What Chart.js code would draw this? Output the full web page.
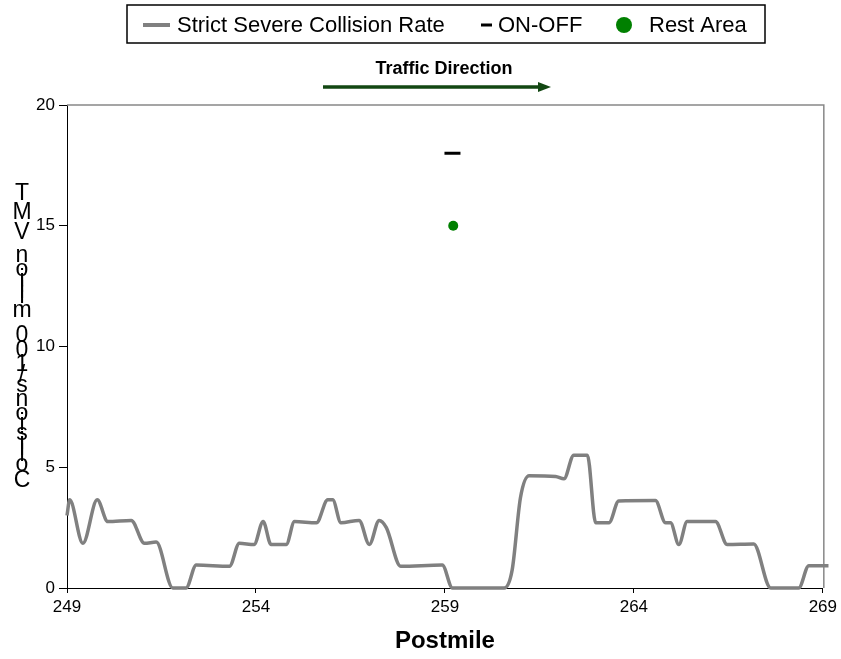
<!DOCTYPE html>
<html>
<head>
<meta charset="utf-8">
<script src="https://cdn.jsdelivr.net/npm/chart.js@4"></script>
<style>
  html, body { margin: 0; padding: 0; background: #fff; }
  #wrap { width: 841px; height: 659px; }
</style>
</head>
<body>
<div id="wrap"><canvas id="rateChart" width="841" height="659"></canvas></div>
<script>
// Strict severe collision rate along the route
const postmiles = [
  249.0, 249.07, 249.42, 249.8, 250.08, 250.7, 251.05, 251.36, 251.8, 252.15,
  252.42, 253.3, 253.56, 253.95, 254.19, 254.4, 254.8, 255.02, 255.6, 255.9,
  256.03, 256.25, 256.73, 257.0, 257.26, 257.45, 257.83, 258.93, 259.2, 260.57,
  260.78, 261.0, 261.23, 261.93, 262.15, 262.41, 262.77, 262.99, 263.34, 263.6,
  264.57, 264.84, 264.97, 265.19, 265.41, 266.16, 266.47, 267.17, 267.62, 268.36,
  268.63, 269.15
];
const rates = [
  3.0, 3.65, 1.85, 3.65, 2.75, 2.8, 1.85, 1.9, 0.0, 0.0,
  0.95, 0.9, 1.85, 1.8, 2.75, 1.8, 1.8, 2.75, 2.7, 3.65,
  3.65, 2.7, 2.8, 1.8, 2.8, 2.5, 0.9, 0.95, 0.0, 0.0,
  0.75, 3.75, 4.65, 4.62, 4.52, 5.5, 5.5, 2.7, 2.7, 3.6,
  3.62, 2.7, 2.7, 1.8, 2.75, 2.75, 1.8, 1.82, 0.0, 0.0,
  0.92, 0.92
];

// Single markers
const onOffX = [259.2];
const onOffY = [18];
const restAreaX = [259.22];
const restAreaY = [15];

// Axis ticks
const xTicks = [249, 254, 259, 264, 269];
const yTicks = [0, 5, 10, 15, 20];

const seriesNames = ['Strict Severe Collision Rate', 'ON-OFF', 'Rest Area'];
const yTitle = 'Collisions/100 million VMT';
const xTitle = 'Postmile';
const directionLabel = 'Traffic Direction';

const FONT = '"Liberation Sans", Arial, sans-serif';

const toPoints = (xs, ys) => xs.map((x, i) => ({ x: x, y: ys[i] }));

// Legend box, direction arrow, stacked y title and plot frame
const decorations = {
  id: 'decorations',
  beforeDatasetsDraw(chart) {
    const { ctx, chartArea } = chart;
    ctx.save();
    ctx.strokeStyle = '#888';
    ctx.lineWidth = 1.5;
    ctx.beginPath();
    ctx.moveTo(chartArea.left, chartArea.top);
    ctx.lineTo(chartArea.right + 1, chartArea.top);
    ctx.lineTo(chartArea.right + 1, chartArea.bottom);
    ctx.stroke();
    ctx.restore();
  },
  afterDraw(chart) {
    const { ctx } = chart;
    ctx.save();

    // legend
    ctx.strokeStyle = '#000';
    ctx.lineWidth = 1.5;
    ctx.strokeRect(127, 5, 638, 38);
    ctx.font = '22px ' + FONT;
    ctx.fillStyle = '#000';
    ctx.textBaseline = 'middle';
    ctx.textAlign = 'left';

    ctx.strokeStyle = '#808080';
    ctx.lineWidth = 4;
    ctx.beginPath(); ctx.moveTo(143, 25); ctx.lineTo(170, 25); ctx.stroke();
    ctx.fillText(seriesNames[0], 177, 26);

    ctx.strokeStyle = '#000';
    ctx.lineWidth = 3;
    ctx.beginPath(); ctx.moveTo(481, 25); ctx.lineTo(492, 25); ctx.stroke();
    ctx.fillText(seriesNames[1], 498, 26);

    ctx.fillStyle = '#008000';
    ctx.beginPath(); ctx.arc(624, 25, 8, 0, Math.PI * 2); ctx.fill();
    ctx.fillStyle = '#000';
    ctx.fillText(seriesNames[2], 649, 26);

    // traffic direction
    ctx.font = 'bold 18px ' + FONT;
    ctx.textAlign = 'center';
    ctx.fillText(directionLabel, 444, 69);
    ctx.strokeStyle = '#124712';
    ctx.fillStyle = '#124712';
    ctx.lineWidth = 3.5;
    ctx.beginPath(); ctx.moveTo(323, 87); ctx.lineTo(540, 87); ctx.stroke();
    ctx.beginPath();
    ctx.moveTo(538, 82); ctx.lineTo(551, 87); ctx.lineTo(538, 92);
    ctx.closePath(); ctx.fill();

    // y title: characters stacked, last char on top
    ctx.font = '23px ' + FONT;
    ctx.fillStyle = '#000';
    const chars = yTitle.split('').reverse();
    const widths = chars.map(c => ctx.measureText(c).width);
    const centers = [];
    let acc = 0;
    widths.forEach(w => { centers.push(acc + w / 2); acc += w; });
    const c0 = centers[0], c1 = centers[centers.length - 1];
    chars.forEach((c, i) => {
      const y = 194 + (centers[i] - c0) / (c1 - c0) * (481 - 194);
      ctx.fillText(c, 22, y);
    });

    ctx.restore();
  }
};

new Chart(document.getElementById('rateChart'), {
  type: 'scatter',
  data: {
    datasets: [
      {
        label: seriesNames[0],
        data: toPoints(postmiles, rates),
        showLine: true,
        borderColor: '#808080',
        borderWidth: 3.5,
        pointRadius: 0,
        cubicInterpolationMode: 'monotone',
        borderJoinStyle: 'round',
        clip: false
      },
      {
        label: seriesNames[1],
        data: toPoints(onOffX, onOffY),
        pointStyle: 'line',
        pointRadius: 8,
        borderColor: '#000',
        pointBorderWidth: 3
      },
      {
        label: seriesNames[2],
        data: toPoints(restAreaX, restAreaY),
        pointStyle: 'circle',
        pointRadius: 5,
        backgroundColor: '#008000',
        borderColor: '#008000',
        pointBorderWidth: 0
      }
    ]
  },
  options: {
    animation: false,
    responsive: false,
    layout: { padding: { top: 105, right: 18, left: 0, bottom: 0 } },
    plugins: {
      legend: { display: false },
      tooltip: { enabled: false }
    },
    scales: {
      x: {
        type: 'linear',
        min: 249,
        max: 269,
        afterBuildTicks: scale => { scale.ticks = xTicks.map(v => ({ value: v })); },
        afterFit: scale => { scale.height = 71; },
        grid: { drawOnChartArea: false, tickLength: 5, color: '#000' },
        border: { color: '#000', width: 1 },
        ticks: { color: '#000', font: { family: FONT, size: 17 }, padding: 4, maxRotation: 0 },
        title: {
          display: true,
          text: xTitle,
          color: '#000',
          font: { family: FONT, size: 24, weight: 'bold' },
          padding: { top: 0, bottom: 3 }
        }
      },
      y: {
        type: 'linear',
        min: 0,
        max: 20,
        afterBuildTicks: scale => { scale.ticks = yTicks.map(v => ({ value: v })); },
        afterFit: scale => { scale.width = 67; },
        grid: { drawOnChartArea: false, tickLength: 8, color: '#000' },
        border: { color: '#000', width: 1 },
        ticks: { color: '#000', font: { family: FONT, size: 17 }, padding: 4 }
      }
    }
  },
  plugins: [decorations]
});
</script>
</body>
</html>
